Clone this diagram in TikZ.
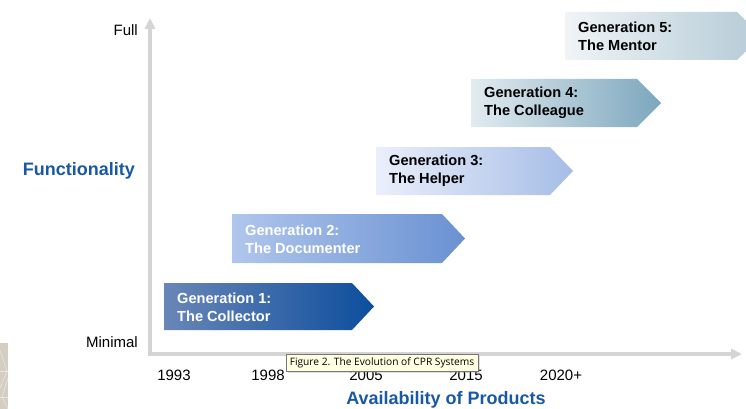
\documentclass[tikz,border=0pt]{standalone}
\usepackage{fontspec}
\setmainfont{Liberation Sans}
\newfontfamily\tipfont{Open Sans}
\usetikzlibrary{arrows.meta,shadows}

\definecolor{axisgray}{RGB}{212,212,212}
\definecolor{titleblue}{RGB}{24,88,164}
\definecolor{genAleft}{RGB}{106,134,184}
\definecolor{genAright}{RGB}{12,78,156}
\definecolor{genBleft}{RGB}{176,198,236}
\definecolor{genBright}{RGB}{106,145,210}
\definecolor{genCleft}{RGB}{234,239,250}
\definecolor{genCright}{RGB}{166,189,231}
\definecolor{genDleft}{RGB}{226,235,240}
\definecolor{genDright}{RGB}{124,167,189}
\definecolor{genEleft}{RGB}{240,244,247}
\definecolor{genEright}{RGB}{180,203,214}
\definecolor{tipyellow}{RGB}{255,255,225}
\definecolor{tipborder}{RGB}{118,118,118}
\definecolor{beige}{RGB}{214,205,194}
\definecolor{beigeline}{RGB}{236,230,222}

\begin{document}
\begin{tikzpicture}[x=1pt, y=-1pt,
  gentext/.style={anchor=west, align=left, inner sep=0pt, font=\fontsize{14.6}{18}\selectfont\bfseries},
  ticklabel/.style={anchor=base, inner sep=0pt, font=\fontsize{15}{18}\selectfont},
  axistitle/.style={inner sep=0pt, text=titleblue, font=\fontsize{18}{22}\selectfont\bfseries},
  tooltip/.style={draw=tipborder, line width=0.8pt, fill=tipyellow, inner sep=0pt,
    minimum width=192pt, minimum height=17pt, font=\tipfont\fontsize{10.2}{12}\selectfont,
    drop shadow={shadow xshift=1.5pt, shadow yshift=-1.5pt, opacity=0.25}}]

 \useasboundingbox (0,0) rectangle (746,409);
 \clip (0,0) rectangle (746,409);

 %%%%%%%%%% Axes %%%%%%%%%%
 \coordinate (O) at (150,354);
 \coordinate (yEnd) at (150,18);
 \coordinate (xEnd) at (742,354);
 \draw [axisgray, line width=4pt, {Triangle[length=11pt, width=10pt]}-{Triangle[length=11pt, width=10pt]}]
   (yEnd) -- (O) -- (xEnd);

 \node [anchor=base east, inner sep=0pt, font=\fontsize{15}{18}\selectfont] (full) at (138,36) {Full};
 \node [anchor=base east, inner sep=0pt, font=\fontsize{15}{18}\selectfont] (minimal) at (138,347) {Minimal};
 \node [axistitle, anchor=base east] (functionality) at (135,175) {Functionality};

 %%%%%%%%%% Years %%%%%%%%%%
 \node [ticklabel] (y1993) at (174,380) {1993};
 \node [ticklabel] (y1998) at (268,380) {1998};
 \node [ticklabel] (y2005) at (366,380) {2005};
 \node [ticklabel] (y2015) at (466,380) {2015};
 \node [ticklabel] (y2020) at (561,380) {2020+};
 \node [axistitle, anchor=base] (availability) at (446,404) {Availability of Products};

 %%%%%%%%%% Generations %%%%%%%%%%
 \shade [left color=genAleft, right color=genAright] (164,283) -- (352,283) -- (374,306.5) -- (352,330) -- (164,330) -- cycle;
 \shade [left color=genBleft, right color=genBright] (232,214) -- (442,214) -- (465,238.5) -- (442,263) -- (232,263) -- cycle;
 \shade [left color=genCleft, right color=genCright] (376,147) -- (550,147) -- (573,171) -- (550,195) -- (376,195) -- cycle;
 \shade [left color=genDleft, right color=genDright] (471,79) -- (637,79) -- (661,103) -- (637,127) -- (471,127) -- cycle;
 \shade [left color=genEleft, right color=genEright] (565,12) -- (737,12) -- (761,36) -- (737,60) -- (565,60) -- cycle;

 \node [gentext, text=white] (gen1) at (177,307) {Generation 1:\\The Collector};
 \node [gentext, text=white] (gen2) at (245,239) {Generation 2:\\The Documenter};
 \node [gentext] (gen3) at (389,171) {Generation 3:\\The Helper};
 \node [gentext] (gen4) at (484,103) {Generation 4:\\The Colleague};
 \node [gentext] (gen5) at (578,36) {Generation 5:\\The Mentor};

 %%%%%%%%%% Caption box %%%%%%%%%%
 \node [tooltip] (caption) at (382,363) {Figure 2. The Evolution of CPR Systems};

 % corner tile
 \fill [beige] (0,343) rectangle (8,409);
 \draw [beigeline, line width=0.8pt] (0,371) -- (8,371) (0,397) -- (8,397);
 \draw [beigeline, line width=0.6pt] (0,350) -- (7,371) -- (0,388) (8,378) -- (2,397) -- (8,409);

\end{tikzpicture}
\end{document}
